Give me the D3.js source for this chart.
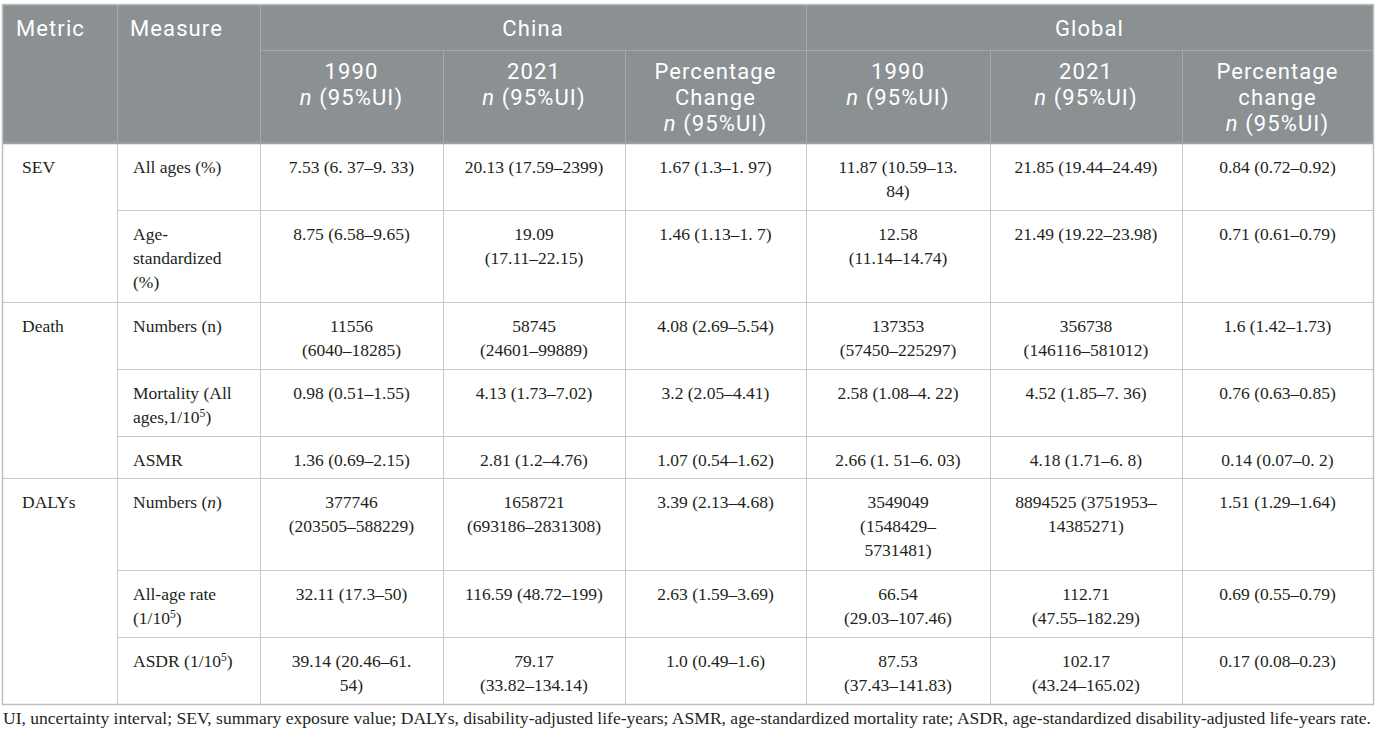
<!DOCTYPE html>
<html>
<head>
<meta charset="utf-8">
<script src="https://cdn.jsdelivr.net/npm/d3@7"></script>
<style>
  body { margin: 0; background: #fff; }
  svg { display: block; }
</style>
</head>
<body>
<svg id="table"></svg>
<script>
// ---- table content (markup: *x* = italic, ^5 = superscript, \n = line break)
const columnLabels = [
    "Metric", "Measure",
    "1990\n*n* (95%UI)", "2021\n*n* (95%UI)", "Percentage\nChange\n*n* (95%UI)",
    "1990\n*n* (95%UI)", "2021\n*n* (95%UI)", "Percentage\nchange\n*n* (95%UI)"
];
const regions = ["China", "Global"];
const rowMetric = ["SEV", "SEV", "Death", "Death", "Death", "DALYs", "DALYs", "DALYs"];
const measures = [
    "All ages (%)", "Age-\nstandardized\n(%)", "Numbers (n)", "Mortality (All\nages,1/10^5)",
    "ASMR", "Numbers (*n*)", "All-age rate\n(1/10^5)", "ASDR (1/10^5)"
];
const china1990 = [
    "7.53 (6. 37–9. 33)", "8.75 (6.58–9.65)", "11556\n(6040–18285)", "0.98 (0.51–1.55)",
    "1.36 (0.69–2.15)", "377746\n(203505–588229)", "32.11 (17.3–50)", "39.14 (20.46–61.\n54)"
];
const china2021 = [
    "20.13 (17.59–2399)", "19.09\n(17.11–22.15)", "58745\n(24601–99889)", "4.13 (1.73–7.02)",
    "2.81 (1.2–4.76)", "1658721\n(693186–2831308)", "116.59 (48.72–199)", "79.17\n(33.82–134.14)"
];
const chinaChange = [
    "1.67 (1.3–1. 97)", "1.46 (1.13–1. 7)", "4.08 (2.69–5.54)", "3.2 (2.05–4.41)",
    "1.07 (0.54–1.62)", "3.39 (2.13–4.68)", "2.63 (1.59–3.69)", "1.0 (0.49–1.6)"
];
const global1990 = [
    "11.87 (10.59–13.\n84)", "12.58\n(11.14–14.74)", "137353\n(57450–225297)", "2.58 (1.08–4. 22)",
    "2.66 (1. 51–6. 03)", "3549049\n(1548429–\n5731481)", "66.54\n(29.03–107.46)", "87.53\n(37.43–141.83)"
];
const global2021 = [
    "21.85 (19.44–24.49)", "21.49 (19.22–23.98)", "356738\n(146116–581012)", "4.52 (1.85–7. 36)",
    "4.18 (1.71–6. 8)", "8894525 (3751953–\n14385271)", "112.71\n(47.55–182.29)", "102.17\n(43.24–165.02)"
];
const globalChange = [
    "0.84 (0.72–0.92)", "0.71 (0.61–0.79)", "1.6 (1.42–1.73)", "0.76 (0.63–0.85)",
    "0.14 (0.07–0. 2)", "1.51 (1.29–1.64)", "0.69 (0.55–0.79)", "0.17 (0.08–0.23)"
];
const footnote = "UI, uncertainty interval; SEV, summary exposure value; DALYs, disability-adjusted life-years; ASMR, age-standardized mortality rate; ASDR, age-standardized disability-adjusted life-years rate.";

// ---- layout
const W = 1375, H = 738;
const tableLeft = 3, tableTop = 5;
const colWidths = [114, 143, 183, 182, 181, 184, 192, 191];
const head1 = 45, head2 = 93;       // header row heights
const lineH = 24, headLineH = 26;
const headSize = 22, bodySize = 17.5;

const colors = {
    headBg: '#8b9093',
    headLine: '#a4a9ab',
    headRule: '#9a9fa1',
    grid: '#c8c8c8',
    border: '#bfbfbf',
    body: '#231f20'
};
const sansFont = 'Roboto, "Noto Sans", sans-serif';
const serifFont = '"Liberation Serif", "Times New Roman", serif';

const dataCols = [china1990, china2021, chinaChange, global1990, global2021, globalChange];
const rows = measures.map((m, i) => [rowMetric[i], m, ...dataCols.map(c => c[i])]);

// column edges / row edges
const colEdges = [tableLeft, ...d3.cumsum(colWidths).map(v => tableLeft + v)];
const tableRight = colEdges[colEdges.length - 1];
const headBottom = tableTop + head1 + head2;
const nLines = rows.map(r => d3.max(r.slice(1), s => s.split('\n').length));
const rowHeights = nLines.map(n => 17 + 25 * n);
const rowEdges = [headBottom, ...d3.cumsum(rowHeights).map(v => headBottom + v)];
const tableBottom = rowEdges[rowEdges.length - 1];

const x = d3.scaleOrdinal().domain(d3.range(colEdges.length)).range(colEdges);
const y = d3.scaleOrdinal().domain(d3.range(rowEdges.length)).range(rowEdges);

const svg = d3.select('#table').attr('width', W).attr('height', H);

// write one line with *italic* and ^sup markup into a <text>
function richLine(text, str, size) {
    const parts = str.split(/(\*[^*]+\*|\^\d+)/).filter(p => p);
    let raised = 0;
    parts.forEach(p => {
        const t = text.append('tspan');
        if (p.startsWith('^')) {
            raised = size * 0.38;
            t.attr('dy', -raised).attr('font-size', size * 0.66).text(p.slice(1));
            return;
        }
        if (raised) { t.attr('dy', raised); raised = 0; }
        if (p.startsWith('*')) t.attr('font-style', 'italic').text(p.slice(1, -1));
        else t.text(p);
    });
}

function cellText(g, str, opts) {
    str.split('\n').forEach((line, k) => {
        const t = g.append('text')
            .attr('x', opts.x)
            .attr('y', opts.y + k * opts.lh + opts.size * 0.36)
            .attr('text-anchor', opts.anchor)
            .attr('font-family', opts.font)
            .attr('font-size', opts.size)
            .attr('letter-spacing', opts.spacing || 0)
            .attr('fill', opts.fill);
        richLine(t, line, opts.size);
    });
}

// ---- header
const head = svg.append('g').attr('class', 'header');
head.append('rect')
    .attr('x', tableLeft).attr('y', tableTop)
    .attr('width', tableRight - tableLeft).attr('height', head1 + head2)
    .attr('fill', colors.headBg);

const headStyle = { lh: headLineH, font: sansFont, size: headSize, fill: '#fff', spacing: 1.1 };

// region labels (row 1)
regions.forEach((r, i) => {
    const c0 = 2 + i * 3, c1 = c0 + 3;
    cellText(head, r, {
        ...headStyle,
        x: (x(c0) + x(c1)) / 2, y: tableTop + 23, anchor: 'middle'
    });
});

// column labels
columnLabels.forEach((lab, i) => {
    const isLeft = i < 2;
    cellText(head, lab, {
        ...headStyle,
        x: isLeft ? x(i) + 13 : (x(i) + x(i + 1)) / 2,
        y: isLeft ? tableTop + 23 : tableTop + head1 + 21,
        anchor: isLeft ? 'start' : 'middle'
    });
});

// header lines
const headLines = head.append('g').attr('stroke', colors.headLine).attr('stroke-width', 1);
headLines.append('line')
    .attr('x1', x(2)).attr('x2', tableRight)
    .attr('y1', tableTop + head1 + 0.5).attr('y2', tableTop + head1 + 0.5);
d3.range(1, colEdges.length - 1).forEach(i => {
    const full = i <= 2 || i === 5;
    headLines.append('line')
        .attr('x1', x(i) + 0.5).attr('x2', x(i) + 0.5)
        .attr('y1', full ? tableTop : tableTop + head1).attr('y2', headBottom);
});

// ---- body
const body = svg.append('g').attr('class', 'body');
const metricStarts = rowMetric.map((m, i) => i === 0 || rowMetric[i - 1] !== m);

const grid = body.append('g').attr('stroke', colors.grid).attr('stroke-width', 1);
d3.range(1, rows.length).forEach(i => {
    grid.append('line')
        .attr('x1', metricStarts[i] ? tableLeft : x(1)).attr('x2', tableRight)
        .attr('y1', y(i) + 0.5).attr('y2', y(i) + 0.5);
});
d3.range(1, colEdges.length - 1).forEach(i => {
    grid.append('line')
        .attr('x1', x(i) + 0.5).attr('x2', x(i) + 0.5)
        .attr('y1', headBottom).attr('y2', tableBottom);
});

rows.forEach((r, i) => {
    r.forEach((cell, j) => {
        if (j === 0 && !metricStarts[i]) return;
        const isLeft = j < 2;
        cellText(body, cell, {
            x: isLeft ? x(j) + (j === 0 ? 19 : 16) : (x(j) + x(j + 1)) / 2,
            y: y(i) + 24, lh: lineH,
            anchor: isLeft ? 'start' : 'middle',
            font: serifFont, size: bodySize, fill: colors.body
        });
    });
});

// outer border and header rule
svg.append('rect')
    .attr('x', tableLeft - 0.5).attr('y', tableTop - 0.5)
    .attr('width', tableRight - tableLeft + 1).attr('height', tableBottom - tableTop + 1)
    .attr('fill', 'none').attr('stroke', colors.border).attr('stroke-width', 1.5);
svg.append('line')
    .attr('x1', tableLeft).attr('x2', tableRight)
    .attr('y1', headBottom).attr('y2', headBottom)
    .attr('stroke', colors.headRule).attr('stroke-width', 2.5);

// ---- footnote
svg.append('text')
    .attr('x', tableLeft).attr('y', 718 + 16.5 * 0.36)
    .attr('font-family', serifFont).attr('font-size', 16.5)
    .attr('fill', colors.body)
    .attr('textLength', tableRight - tableLeft - 2)
    .attr('lengthAdjust', 'spacingAndGlyphs')
    .text(footnote);
</script>
</body>
</html>
